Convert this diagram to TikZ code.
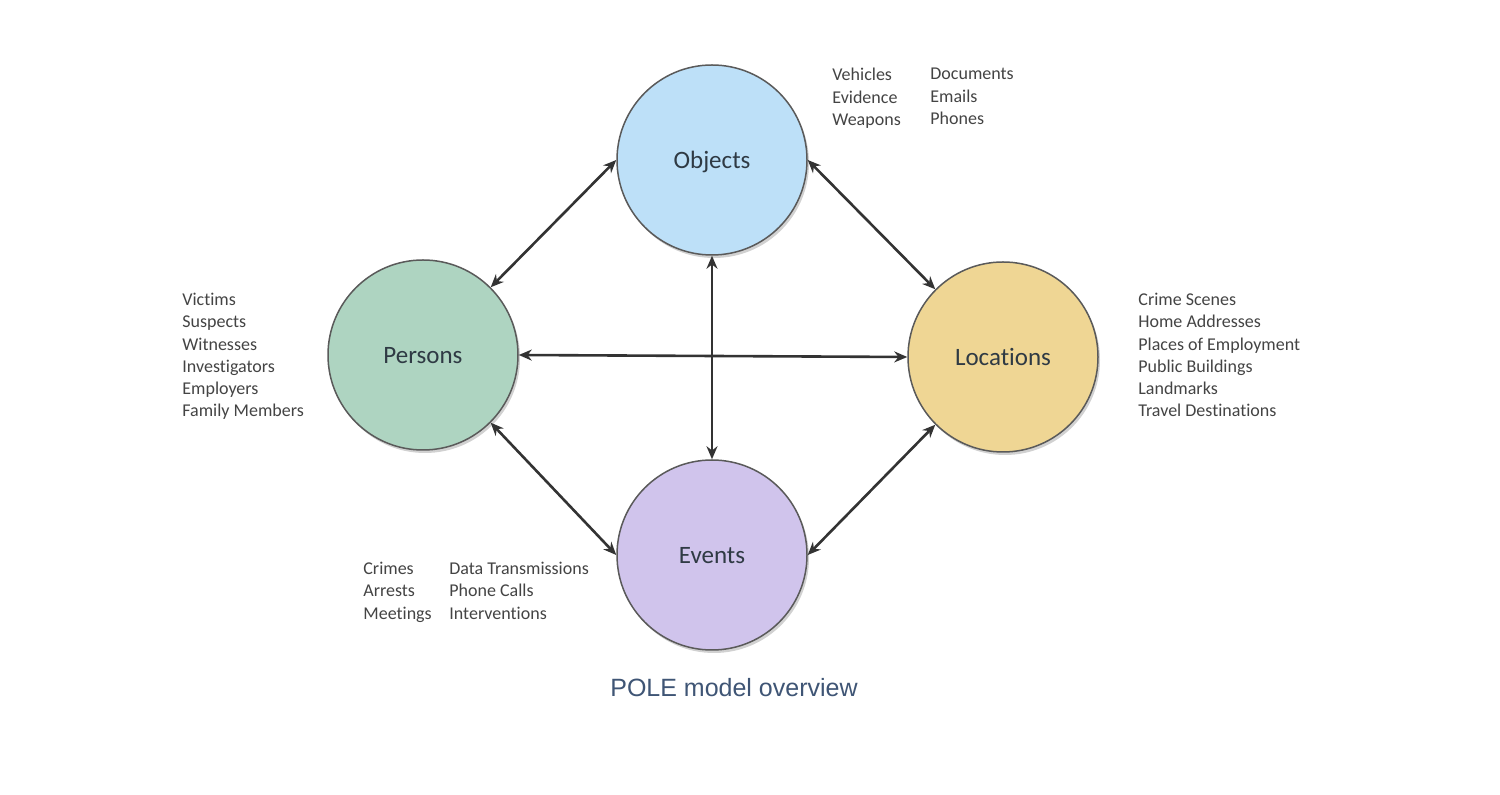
\documentclass[tikz,border=0pt]{standalone}
\usepackage{fontspec}
\setmainfont{Carlito}[Ligatures=NoCommon]
\newfontfamily\captionfont{Liberation Sans}
\usetikzlibrary{arrows.meta,shadows}

\definecolor{objfill}{HTML}{BDE0F8}
\definecolor{perfill}{HTML}{AED4C1}
\definecolor{locfill}{HTML}{EFD694}
\definecolor{evtfill}{HTML}{D0C4EC}
\definecolor{linegray}{HTML}{5A5A5A}
\definecolor{arrowgray}{HTML}{333333}
\definecolor{labelgray}{HTML}{2F3A44}
\definecolor{listgray}{HTML}{444444}
\definecolor{captionblue}{HTML}{3F5575}

\begin{document}
\begin{tikzpicture}[x=0.5pt,y=-0.5pt,
  entity/.style={circle,draw=linegray,line width=0.75pt,minimum size=95pt,
    inner sep=0pt,text=labelgray,text depth=0pt,font=\fontsize{12.5}{15}\selectfont,
    drop shadow={shadow xshift=1pt,shadow yshift=-1.5pt,opacity=0.18,fill=black}},
  liste/.style={anchor=north west,align=left,inner sep=0pt,text=listgray,
    font=\fontsize{9}{11.1}\selectfont},
  link/.style={{Stealth[length=6.5pt,width=5.5pt]}-{Stealth[length=6.5pt,width=5.5pt]},
    line width=1.3pt,draw=arrowgray}]
\path [use as bounding box, fill=white] (0,0) rectangle (1500,795);

% Entites
\foreach \nom/\x/\y/\col/\txt in {objects/712/160/objfill/Objects,
                                  persons/423/355/perfill/Persons,
                                  locations/1003/357/locfill/Locations,
                                  events/712/555/evtfill/Events}
  \node [entity,fill=\col] (\nom) at (\x,\y) {\txt};

% Relations
\foreach \a/\b in {persons.45/objects.180, objects.0/locations.135,
                   persons.0/locations.180, objects.270/events.90,
                   persons.315/events.180, events.0/locations.225}
  \draw [link] (\a) -- (\b);

% Exemples
\node [liste] (objA) at (832,68)  {Vehicles\\Evidence\\Weapons};
\node [liste] (objB) at (930,68)  {Documents\\Emails\\Phones};
\node [liste] (perA) at (182,293) {Victims\\Suspects\\Witnesses\\Investigators\\Employers\\Family Members};
\node [liste] (locA) at (1138,293) {Crime Scenes\\Home Addresses\\Places of Employment\\Public Buildings\\Landmarks\\Travel Destinations};
\node [liste] (evtA) at (363,562) {Crimes\\Arrests\\Meetings};
\node [liste] (evtB) at (449,562) {Data Transmissions\\Phone Calls\\Interventions};

% Titre
\node [font=\captionfont\fontsize{12.5}{15}\selectfont,text=captionblue]
      (titre) at (734,688) {POLE model overview};

\end{tikzpicture}
\end{document}
